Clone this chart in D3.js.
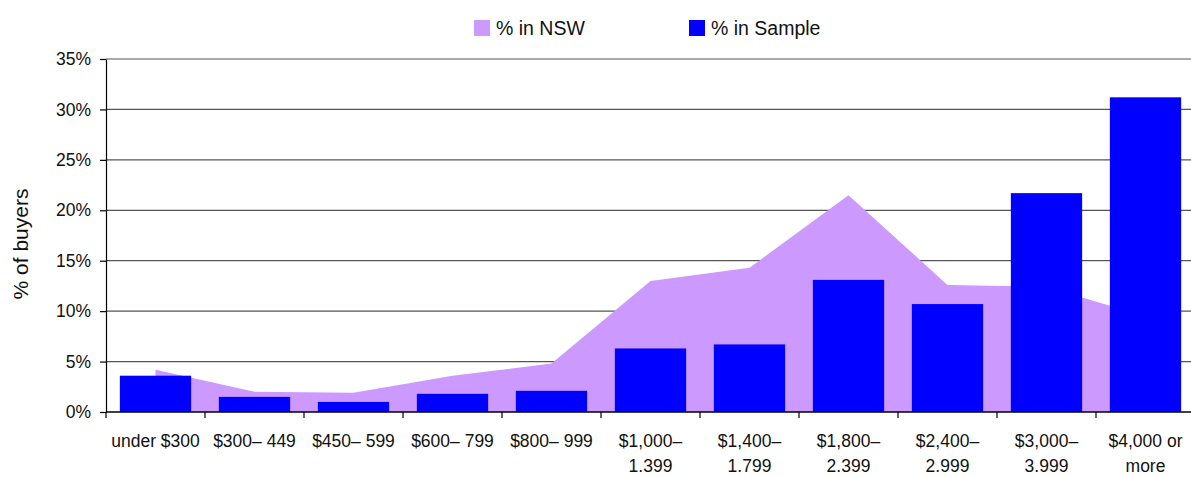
<!DOCTYPE html>
<html>
<head>
<meta charset="utf-8">
<script src="https://cdn.jsdelivr.net/npm/d3@7"></script>
<style>
  body { margin: 0; background: #fff; }
  svg { display: block; font-family: "Liberation Sans", Arial, sans-serif; }
</style>
</head>
<body>
<svg></svg>
<script>
var categories = [
  "under $300", "$300\u2013 449", "$450\u2013 599", "$600\u2013 799", "$800\u2013 999",
  "$1,000\u2013|1.399", "$1,400\u2013|1.799", "$1,800\u2013|2.399", "$2,400\u2013|2.999",
  "$3,000\u2013|3.999", "$4,000 or|more"
];
var nswValues = [4.2, 2.0, 1.9, 3.6, 4.8, 13.0, 14.3, 21.5, 12.6, 12.4, 9.5];
var sampleValues = [3.6, 1.5, 1.0, 1.8, 2.1, 6.3, 6.7, 13.1, 10.7, 21.7, 31.2];
var yTicks = [0, 5, 10, 15, 20, 25, 30, 35];
var seriesNames = ["% in NSW", "% in Sample"];

var width = 1191;
var height = 477;
var plotLeft = 106, plotTop = 59, plotRight = 1195, plotBottom = 412;

var svg = d3.select('svg')
    .attr('width', width)
    .attr('height', height);

var x = d3.scaleBand()
    .domain(categories)
    .range([plotLeft, plotRight])
    .paddingInner(0.28)
    .paddingOuter(0.14);

var xStep = d3.scaleBand().domain(categories).range([plotLeft, plotRight]);

var y = d3.scaleLinear()
    .domain([0, 35])
    .range([plotBottom, plotTop]);

// gridlines
svg.append('g')
  .selectAll('line')
  .data(yTicks.filter(d => d > 0))
  .enter()
  .append('line')
    .attr('x1', plotLeft)
    .attr('x2', width)
    .attr('y1', d => y(d))
    .attr('y2', d => y(d))
    .attr('stroke', '#555')
    .attr('stroke-width', 1.2);

// NSW area
var data = categories.map((c, i) => ({cat: c, nsw: nswValues[i], sample: sampleValues[i]}));

var area = d3.area()
    .x(d => xStep(d.cat) + xStep.bandwidth() / 2)
    .y0(y(0))
    .y1(d => y(d.nsw));

svg.append('path')
    .datum(data)
    .attr('fill', '#cc99ff')
    .attr('d', area);

// sample bars
svg.append('g')
  .selectAll('rect')
  .data(data)
  .enter()
  .append('rect')
    .attr('x', d => x(d.cat))
    .attr('width', x.bandwidth())
    .attr('y', d => y(d.sample))
    .attr('height', d => y(0) - y(d.sample))
    .attr('fill', '#0000ff');

// y axis
var yAxis = svg.append('g')
    .attr('transform', 'translate(' + plotLeft + ',0)')
    .call(d3.axisLeft(y)
      .tickValues(yTicks)
      .tickSize(6)
      .tickSizeOuter(0)
      .tickFormat(d => d + '%'));
yAxis.selectAll('text')
    .attr('font-size', 17.5)
    .attr('font-family', '"Liberation Sans", Arial, sans-serif')
    .attr('fill', '#111')
    .attr('x', -15);
yAxis.selectAll('line, path').attr('stroke', '#000').attr('stroke-width', 1.2);

// x axis
svg.append('line')
    .attr('x1', plotLeft)
    .attr('x2', width)
    .attr('y1', y(0))
    .attr('y2', y(0))
    .attr('stroke', '#000')
    .attr('stroke-width', 1.5);

var boundaries = categories.map(c => xStep(c)).concat([plotRight]);
svg.append('g')
  .selectAll('line')
  .data(boundaries)
  .enter()
  .append('line')
    .attr('x1', d => d)
    .attr('x2', d => d)
    .attr('y1', y(0))
    .attr('y2', y(0) + 6)
    .attr('stroke', '#000')
    .attr('stroke-width', 1.2);

var xLabels = svg.append('g')
  .selectAll('text')
  .data(categories)
  .enter()
  .append('text')
    .attr('x', d => xStep(d) + xStep.bandwidth() / 2)
    .attr('y', 447)
    .attr('text-anchor', 'middle')
    .attr('font-size', 17.5)
    .attr('fill', '#111');
xLabels.each(function(d){
  var lines = d.split('|');
  var t = d3.select(this);
  lines.forEach(function(l, i){
    t.append('tspan')
      .attr('x', xStep(d) + xStep.bandwidth() / 2)
      .attr('dy', i === 0 ? 0 : 25)
      .text(l);
  });
});

// y title
svg.append('text')
    .attr('transform', 'translate(28,244) rotate(-90)')
    .attr('text-anchor', 'middle')
    .attr('font-size', 21)
    .attr('fill', '#111')
    .text('% of buyers');

// legend
var legendX = [474, 689];
var legendColors = ['#cc99ff', '#0000ff'];
var legend = svg.append('g')
  .selectAll('g')
  .data(seriesNames)
  .enter()
  .append('g')
    .attr('transform', (d, i) => 'translate(' + legendX[i] + ',20)');
legend.append('rect')
    .attr('width', 16)
    .attr('height', 16)
    .attr('fill', (d, i) => legendColors[i]);
legend.append('text')
    .attr('x', 22)
    .attr('y', 15)
    .attr('font-size', 19.5)
    .attr('fill', '#111')
    .text(d => d);
</script>
</body>
</html>
